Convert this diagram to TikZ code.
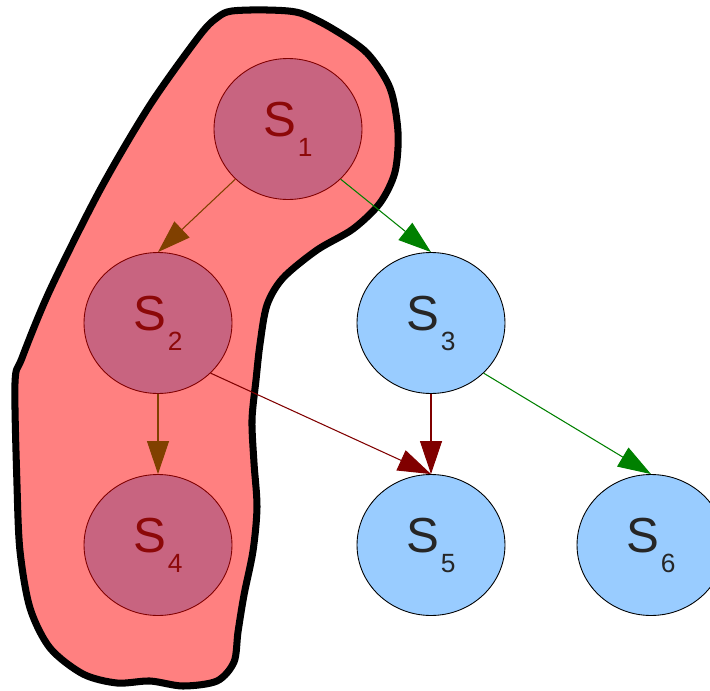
\documentclass[tikz,border=0pt]{standalone}
\usepackage{fontspec}
\setmainfont{Liberation Sans}
\usetikzlibrary{arrows.meta,shapes.geometric}

\definecolor{blobred}{RGB}{255,128,128}
\definecolor{inmauve}{RGB}{200,100,128}
\definecolor{darkred}{RGB}{128,0,0}
\definecolor{textred}{RGB}{140,8,8}
\definecolor{lblue}{RGB}{153,204,255}
\definecolor{brownish}{RGB}{128,64,0}
\definecolor{dgreen}{RGB}{0,128,0}

% S with a lowered index
\newcommand{\stname}[1]{S\kern1pt\raisebox{-0.4cm}{\fontsize{15}{15}\selectfont #1}}

\tikzset{
  state/.style={ellipse, minimum width=2.96cm, minimum height=2.82cm,
    inner sep=0pt, line width=0.5pt, font=\fontsize{28}{28}\selectfont},
  inside/.style={state, fill=inmauve, draw=darkred, text=textred},
  outside/.style={state, fill=lblue, draw=black, text=black!85},
  link/.style={line width=0.6pt, -{Triangle[length=0.66cm,width=0.44cm]}}
}

\begin{document}
\begin{tikzpicture}[x=0.02cm, y=-0.02cm]
  \clip (0,0) rectangle (710,690);

  % blob round the first group
  \draw[fill=blobred, line width=4pt] plot[smooth cycle, tension=0.5] coordinates {
    (232,11) (267,10) (300,13) (333,29) (367,53) (390,88) (398,132)
    (395,172) (380,203) (353,229) (317,250) (283,278) (267,305) (260,344)
    (256,380) (252,420) (254,463) (257,507) (253,551) (244,595) (238,632)
    (234,662) (217,681) (183,686) (150,681) (117,683) (83,674) (50,648)
    (30,608) (20,551) (17,485) (15,383) (22,358) (50,290) (100,190)
    (150,105) (200,35) (218,17)};

  % states
  \node[inside]  (s1) at (288,129) {\stname{1}};
  \node[inside]  (s2) at (158,323) {\stname{2}};
  \node[outside] (s3) at (431,323) {\stname{3}};
  \node[inside]  (s4) at (158,545) {\stname{4}};
  \node[outside] (s5) at (431,545) {\stname{5}};
  \node[outside] (s6) at (651,545) {\stname{6}};

  % transitions
  \draw[link, brownish] (s1.south west) -- (s2.north);
  \draw[link, dgreen]   (s1.south east) -- (s3.north);
  \draw[link, brownish] (s2.south) -- (s4.north);
  \draw[link, darkred]  (s2.south east) -- (s5.north);
  \draw[link, darkred]  (s3.south) -- (s5.north);
  \draw[link, dgreen]   (s3.south east) -- (s6.north);
\end{tikzpicture}
\end{document}
